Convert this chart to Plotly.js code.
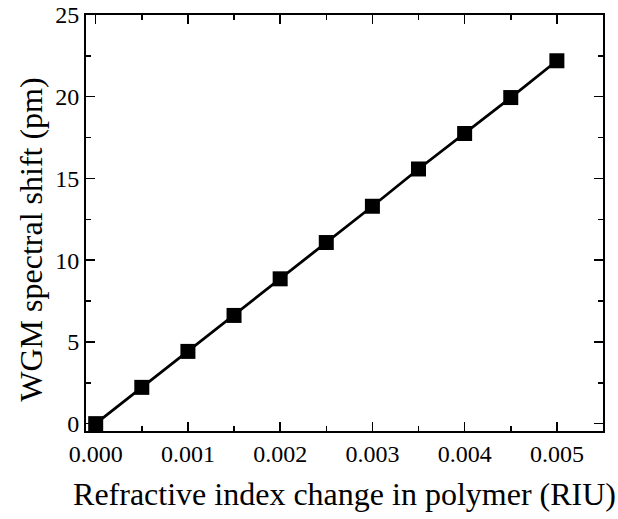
<!DOCTYPE html>
<html>
<head>
<meta charset="utf-8">
<script src="https://cdn.plot.ly/plotly-3.0.1.min.js"></script>
<style>html,body{margin:0;padding:0;background:#fff;}#chart{width:618px;height:519px;}</style>
</head>
<body>
<div id="chart"></div>
<script>
const riuChange = [0, 0.0005, 0.001, 0.0015, 0.002, 0.0025, 0.003, 0.0035, 0.004, 0.0045, 0.005];
const wgmShift = [0, 2.22, 4.42, 6.62, 8.86, 11.08, 13.3, 15.58, 17.75, 19.95, 22.2];
const xTitle = 'Refractive index change in polymer (RIU)';
const yTitle = 'WGM spectral shift (pm)';

const font = 'Liberation Serif, Times New Roman, serif';

const trace = {
  x: riuChange, y: wgmShift, type: 'scatter', mode: 'lines+markers',
  line: {color: '#000', width: 2.8},
  marker: {symbol: 'square', size: 15, color: '#000'},
  cliponaxis: false
};

const axisCommon = {
  showline: true, linecolor: '#000', linewidth: 2, mirror: 'ticks',
  ticks: 'inside', ticklen: 9, tickwidth: 1.5, tickcolor: '#000',
  showgrid: false, zeroline: false,
  tickfont: {family: font, size: 24, color: '#000'}
};

const layout = {
  width: 618, height: 519,
  margin: {l: 86, r: 15, t: 15, b: 88},
  paper_bgcolor: '#fff', plot_bgcolor: '#fff',
  showlegend: false,
  xaxis: Object.assign({}, axisCommon, {
    range: [-0.000105, 0.0055], dtick: 0.001, tick0: 0, tickformat: '.3f',
    minor: {ticks: 'inside', dtick: 0.0005, ticklen: 5, tickwidth: 1.5, tickcolor: '#000'},
    title: {text: xTitle, font: {family: font, size: 32, color: '#000'}, standoff: 17}
  }),
  yaxis: Object.assign({}, axisCommon, {
    range: [-0.45, 25], dtick: 5, tick0: 0,
    minor: {ticks: 'inside', dtick: 2.5, ticklen: 5, tickwidth: 1.5, tickcolor: '#000'},
    title: {text: ''}
  }),
  annotations: [{
    text: yTitle, xref: 'paper', yref: 'paper', x: -0.108, y: 0.066,
    xanchor: 'center', yanchor: 'bottom', textangle: -90, showarrow: false,
    font: {family: font, size: 32, color: '#000'}
  }]
};

Plotly.newPlot('chart', [trace], layout, {displayModeBar: false, staticPlot: true});
</script>
</body>
</html>
